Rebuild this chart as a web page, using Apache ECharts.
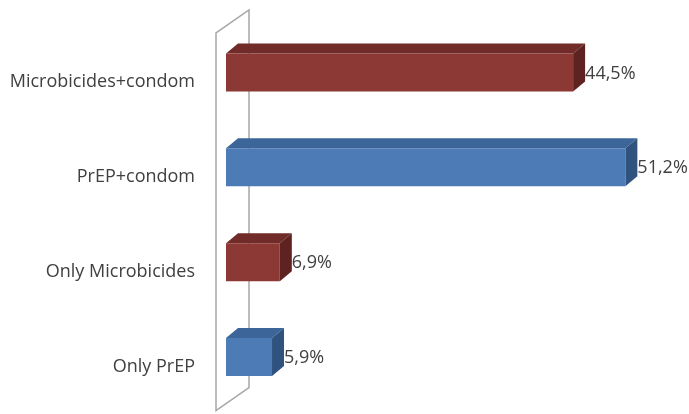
<!DOCTYPE html>
<html>
<head>
<meta charset="utf-8">
<style>
  html, body { margin: 0; padding: 0; background: #ffffff; }
  #chart { width: 689px; height: 414px; }
</style>
<script src="https://cdn.jsdelivr.net/npm/echarts@6/dist/echarts.min.js"></script>
</head>
<body>
<div id="chart"></div>
<script>
// Preferred prevention method, share of respondents
const categories = ['Microbicides+condom', 'PrEP+condom', 'Only Microbicides', 'Only PrEP'];
const shares = [44.5, 51.2, 6.9, 5.9];
const valueLabels = ['44,5%', '51,2%', '6,9%', '5,9%'];
const barKinds = ['red', 'blue', 'red', 'blue'];

// face shades for the extruded bars: front, top, side
const shades = {
  red:  { front: '#8C3835', top: '#712B29', side: '#5E2321' },
  blue: { front: '#4C7BB6', top: '#3C6699', side: '#2F527F' }
};

const FONT = '"Open Sans", "Liberation Sans", sans-serif';
const DEPTH_X = 12, DEPTH_Y = -10, BAR_H = 38, LIFT = 9.5;

function renderBar(params, api) {
  const v = api.value(0);
  const ci = api.value(1);
  const p0 = api.coord([0, ci]);
  const p1 = api.coord([v, ci]);
  const x0 = p0[0], x1 = p1[0];
  const top = p0[1] - LIFT - BAR_H / 2;
  const c = shades[barKinds[params.dataIndex]];
  return {
    type: 'group',
    children: [
      { type: 'polygon', shape: { points: [[x0, top], [x0 + DEPTH_X, top + DEPTH_Y], [x1 + DEPTH_X, top + DEPTH_Y], [x1, top]] },
        style: { fill: c.top } },
      { type: 'polygon', shape: { points: [[x1, top], [x1 + DEPTH_X, top + DEPTH_Y], [x1 + DEPTH_X, top + DEPTH_Y + BAR_H], [x1, top + BAR_H]] },
        style: { fill: c.side } },
      { type: 'rect', shape: { x: x0, y: top, width: x1 - x0, height: BAR_H },
        style: { fill: c.front } },
      { type: 'text', x: x1 + DEPTH_X, y: top + BAR_H / 2 + 1,
        style: { text: valueLabels[params.dataIndex], fill: '#404040', font: '18px ' + FONT,
                 textAlign: 'left', textVerticalAlign: 'middle' } }
    ]
  };
}

// thin back wall standing behind the bars
function renderWall(params) {
  const cs = params.coordSys;
  const x = cs.x - 10;
  const yTop = cs.y - 1.5;
  const yBot = cs.y + cs.height - 3.5;
  const dx = 33, dy = -23;
  return {
    type: 'polygon',
    shape: { points: [[x, yTop], [x, yBot], [x + dx, yBot + dy], [x + dx, yTop + dy]] },
    style: { fill: 'none', stroke: '#A6A6A6', lineWidth: 1.5 }
  };
}

const chart = echarts.init(document.getElementById('chart'));
chart.setOption({
  animation: false,
  backgroundColor: '#ffffff',
  grid: { left: 226, right: 34, top: 34.5, bottom: 0 },
  xAxis: { type: 'value', min: 0, max: 55, show: false },
  yAxis: {
    type: 'category', data: categories, inverse: true,
    axisLine: { show: false }, axisTick: { show: false }, splitLine: { show: false },
    axisLabel: { fontSize: 18, color: '#404040', margin: 31, fontFamily: FONT }
  },
  series: [
    { type: 'custom', renderItem: renderWall, data: [[0, 0]], z: 1, silent: true, clip: false },
    { type: 'custom', renderItem: renderBar, data: shares.map((v, i) => [v, i]),
      encode: { x: 0, y: 1 }, z: 2, clip: false }
  ]
});
</script>
</body>
</html>
